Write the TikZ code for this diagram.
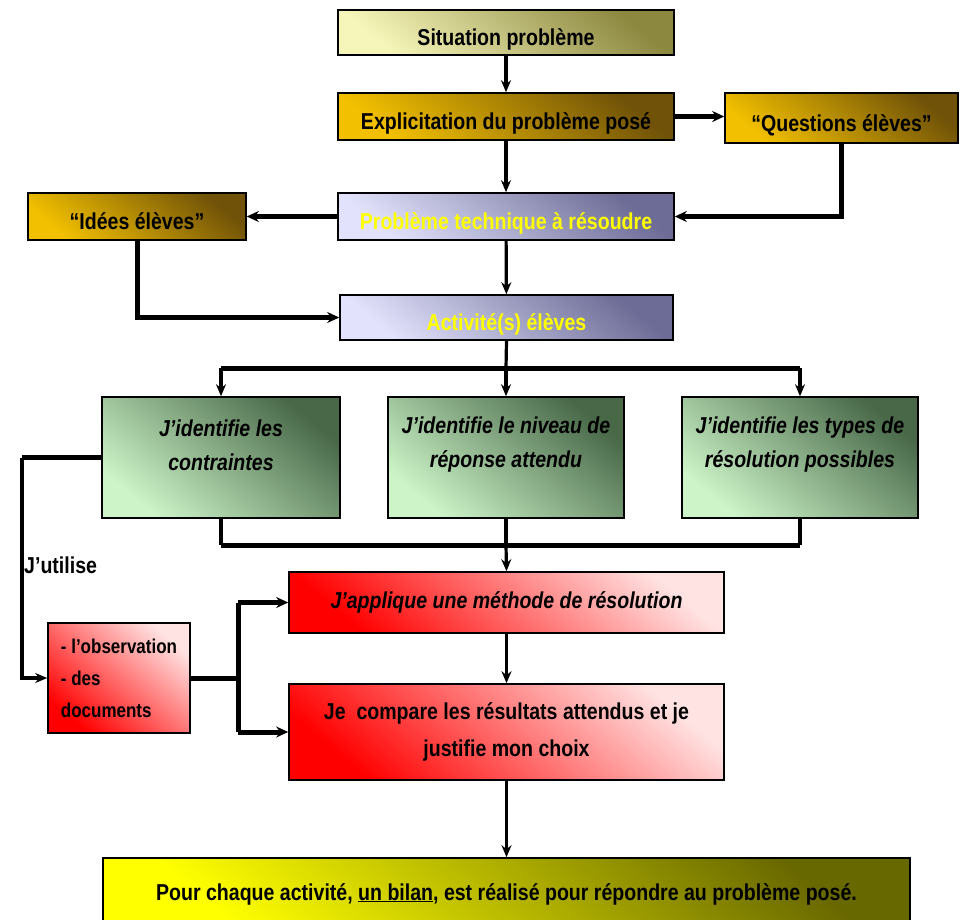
\documentclass[tikz,border=0pt]{standalone}
\usepackage{fontspec}
\setmainfont{Liberation Sans}[FakeStretch=0.85]
\usetikzlibrary{arrows.meta}
\definecolor{sitA}{RGB}{246,246,186}
\definecolor{sitB}{RGB}{140,136,64}
\definecolor{golA}{RGB}{242,192,0}
\definecolor{golB}{RGB}{112,82,8}
\definecolor{lavA}{RGB}{226,226,252}
\definecolor{lavB}{RGB}{108,108,150}
\definecolor{grnA}{RGB}{204,244,200}
\definecolor{grnB}{RGB}{72,104,72}
\definecolor{redA}{RGB}{255,0,0}
\definecolor{redB}{RGB}{255,226,226}
\definecolor{yelA}{RGB}{255,255,0}
\definecolor{yelB}{RGB}{104,104,0}
\definecolor{txtY}{RGB}{255,255,0}
\tikzset{
  box/.style={draw=black, line width=1.6pt, inner sep=0pt, align=center,
    font=\fontsize{23}{37}\selectfont\bfseries},
  low/.style={text height=26pt, text depth=0pt},
  grad/.style 2 args={shade, top color=#2, bottom color=#1, shading angle=-40},
  sitbox/.style={box, low, grad={sitA}{sitB}},
  golbox/.style={box, low, grad={golA}{golB}},
  lavbox/.style={box, low, grad={lavA}{lavB}, text=txtY},
  grnbox/.style={box, grad={grnA}{grnB}},
  grntext/.style={inner sep=0pt, align=center, font=\fontsize{23}{34}\selectfont\bfseries\itshape},
  redbox/.style={box, grad={redA}{redB}},
  yelbox/.style={box, grad={yelA}{yelB}},
  conn/.style={line width=3.2pt, -{Stealth[length=12pt,width=10pt]}},
  bconn/.style={line width=5pt, -{Stealth[length=12pt,width=11pt]}},
  line/.style={line width=3.2pt},
  bline/.style={line width=5pt},
}
\begin{document}
\begin{tikzpicture}[x=1pt,y=-1pt]
\useasboundingbox (0,0) rectangle (960,919);
\fill[white] (0,0) rectangle (960,919);

\node[sitbox, minimum width=336pt, minimum height=45pt] (sit) at (506,32.5) {Situation problème};
\node[golbox, minimum width=336pt, minimum height=47pt] (expl) at (506,116.5) {Explicitation du problème posé};
\node[golbox, minimum width=233pt, minimum height=50pt] (ques) at (841.5,118) {“Questions élèves”};
\node[golbox, minimum width=218pt, minimum height=47pt] (idees) at (137,216.5) {“Idées élèves”};
\node[lavbox, minimum width=336pt, minimum height=47pt] (prob) at (506,216.5) {Problème technique à résoudre};
\node[lavbox, minimum width=333pt, minimum height=45pt] (act) at (506.5,317.5) {Activité(s) élèves};

\node[grnbox, minimum width=238pt, minimum height=121pt] (g1) at (221,457.5) {};
\node[grnbox, minimum width=236pt, minimum height=121pt] (g2) at (506,457.5) {};
\node[grnbox, minimum width=236pt, minimum height=121pt] (g3) at (800,457.5) {};
\node[grntext] (g1t) at (221,445) {J’identifie les\\contraintes};
\node[grntext] (g2t) at (506,445) {J’identifie le niveau de\\réponse attendu};
\node[grntext] (g3t) at (800,445) {J’identifie les types de\\résolution possibles};

\node[redbox, minimum width=435pt, minimum height=61pt, font=\fontsize{23}{37}\selectfont\bfseries\itshape] (appl) at (506.5,602.5) {J’applique une méthode de résolution};
\node[redbox, minimum width=435pt, minimum height=96pt] (comp) at (506.5,732) {Je\ \ compare les résultats attendus et je\\justifie mon choix};
\node[redbox, minimum width=142pt, minimum height=110pt, align=left, font=\fontsize{20}{32}\selectfont\bfseries] (obs) at (119,678) {- l’observation\\- des\\documents};

\node[yelbox, minimum width=807pt, minimum height=64pt, text height=20pt, text depth=0pt] (bilan) at (506.5,890) {Pour chaque activité, \underline{un bilan}, est réalisé pour répondre au problème posé.};

\node[anchor=west, inner sep=0pt, font=\fontsize{23}{26}\selectfont\bfseries] (util) at (24,565) {J’utilise};

% connectors
\draw[conn] (sit) -- (expl);
\draw[bconn] (expl.east) -- (expl.east -| ques.west);
\draw[conn] (expl) -- (prob);
\draw[bconn] (ques.south) |- (prob.east);
\draw[bconn] (prob.west) -- (idees.east);
\draw[bconn] (idees.south) |- (act.west);
\draw[conn] (prob) -- (act);

\coordinate (bt) at (506,368);
\draw[line] (act.south) -- (bt);
\draw[bline] (g1.north |- bt) -- (g3.north |- bt);
\draw[conn] (g1.north |- bt) -- (g1.north);
\draw[conn] (bt) -- (g2.north);
\draw[conn] (g3.north |- bt) -- (g3.north);

\coordinate (bb) at (506,545);
\draw[line] (g1.south) -- (g1.south |- bb);
\draw[line] (g3.south) -- (g3.south |- bb);
\draw[bline] (g1.south |- bb) -- (g3.south |- bb);
\draw[line] (g2.south) -- (bb);
\draw[conn] (bb) -- (appl.north);

\coordinate (ul) at (22,457.5);
\draw[bline] (g1.west) -- (ul);
\draw[conn] (ul) |- (obs.west);

\coordinate (sp) at (238,678);
\draw[bline] (obs.east) -- (sp);
\draw[bline] (sp |- appl.west) -- (sp |- comp.west);
\draw[bconn] (sp |- appl.west) -- (appl.west);
\draw[bconn] (sp |- comp.west) -- (comp.west);

\draw[conn] (appl) -- (comp);
\draw[conn] (comp) -- (bilan);
\end{tikzpicture}
\end{document}
